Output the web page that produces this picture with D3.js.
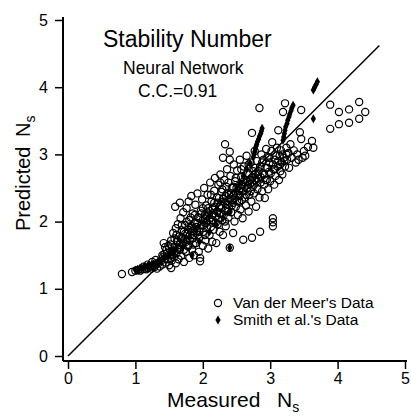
<!DOCTYPE html>
<html><head><meta charset="utf-8">
<script src="https://cdn.jsdelivr.net/npm/d3@7"></script>
<style>html,body{margin:0;padding:0;background:#fff;}svg{display:block;font-family:"Liberation Sans",Arial,Helvetica,sans-serif;}</style>
</head><body>
<svg id="chart" width="411" height="418"></svg>
<script>
// ---- data (Measured Ns, Predicted Ns) ----
const axisTicks = [0, 1, 2, 3, 4, 5];
const titleText = "Stability Number";
const subtitleText = "Neural Network";
const ccText = "C.C.=0.91";
const legendLabels = ["Van der Meer's Data", "Smith et al.'s  Data"];
const diagonal = [[0, 0], [4.62, 4.62]];

const vanDerMeer = [
  [0.80,1.22],[0.95,1.25],[1.00,1.27],[1.04,1.28],[1.07,1.27],[1.10,1.29],[1.13,1.30],[1.16,1.29],[1.19,1.31],[1.21,1.33],
  [1.24,1.30],[1.26,1.34],[1.28,1.32],[1.30,1.36],[1.32,1.30],[1.34,1.38],[1.12,1.33],[1.18,1.36],[1.25,1.40],[1.30,1.43],
  [1.36,1.33],[1.38,1.41],[1.40,1.36],[1.41,1.47],[1.42,1.68],[1.43,1.52],[1.45,1.39],[1.46,1.58],[1.48,1.44],[1.49,1.64],
  [1.50,1.35],[1.51,1.50],[1.53,1.31],[1.53,1.72],[1.54,1.42],[1.55,1.56],[1.56,1.83],[1.57,1.47],[1.58,1.62],[1.59,2.22],
  [1.60,1.38],[1.60,1.90],[1.61,1.53],[1.62,1.70],[1.63,1.96],[1.64,1.44],[1.65,1.78],[1.66,2.28],[1.66,1.58],[1.67,2.05],
  [1.68,1.49],[1.69,1.87],[1.70,1.66],[1.71,2.14],[1.72,1.40],[1.73,1.74],[1.74,1.95],[1.75,1.55],[1.76,2.20],[1.77,1.82],
  [1.78,1.63],[1.79,2.30],[1.80,1.46],[1.80,2.02],[1.81,1.72],[1.82,1.90],[1.83,2.38],[1.84,1.58],[1.85,2.12],[1.86,1.80],
  [1.87,1.50],[1.88,1.98],[1.89,2.25],[1.90,1.68],[1.91,1.86],[1.92,2.42],[1.93,2.06],[1.94,1.55],[1.95,1.76],[1.96,1.46],
  [1.96,1.41],[1.97,2.16],[1.98,1.95],[1.99,2.33],[2.00,1.64],[2.01,1.85],[2.02,2.50],[2.03,2.05],[2.04,1.72],[2.05,2.24],
  [2.06,1.92],[2.07,2.40],[2.08,1.60],[2.09,2.12],[2.10,1.80],[2.11,2.58],[2.12,2.00],[2.13,2.30],[2.14,1.70],[2.15,2.18],
  [2.16,1.88],[2.17,2.46],[2.18,2.65],[2.19,2.08],[2.20,1.68],[2.21,2.36],[2.22,1.96],[2.23,2.55],[2.24,2.22],[2.25,1.85],
  [2.26,2.70],[2.27,2.12],[2.28,2.44],[2.29,2.02],[2.30,1.80],[2.30,2.95],[2.31,2.30],[2.32,2.62],[2.33,3.15],[2.33,2.16],
  [2.34,1.93],[2.35,2.52],[2.36,2.78],[2.37,2.25],[2.38,2.06],[2.39,2.40],[2.40,3.04],[2.40,2.92],[2.40,1.61],[2.41,2.68],
  [2.42,2.14],[2.43,2.50],[2.44,2.32],[2.45,1.83],[2.46,2.85],[2.47,2.00],[2.48,2.60],[2.49,2.22],[2.50,2.42],[2.51,2.76],
  [2.52,2.10],[2.53,2.53],[2.54,2.30],[2.55,2.92],[2.56,2.18],[2.57,2.66],[2.58,2.45],[2.59,2.05],[2.60,1.73],[2.61,2.82],
  [2.62,2.36],[2.63,2.58],[2.64,2.24],[2.65,2.98],[2.66,2.50],[2.67,2.72],[2.68,2.15],[2.69,2.40],[2.70,2.62],[2.71,2.88],
  [2.72,2.30],[2.73,1.76],[2.73,3.32],[2.74,2.52],[2.75,2.75],[2.76,2.42],[2.77,3.05],[2.78,2.62],[2.79,2.22],[2.80,2.90],
  [2.81,2.48],[2.82,2.70],[2.84,3.69],[2.84,2.36],[2.85,1.85],[2.85,2.82],[2.86,2.58],[2.87,3.00],[2.88,2.45],[2.89,2.72],
  [2.90,2.92],[2.91,2.55],[2.92,2.35],[2.93,2.80],[2.94,3.08],[2.95,2.62],[2.96,2.96],[2.97,2.48],[2.98,2.74],[2.99,2.88],
  [3.00,2.60],[3.02,3.05],[3.03,3.18],[3.04,1.93],[3.04,1.99],[3.04,2.05],[3.05,2.78],[3.06,2.55],[3.07,2.92],[3.08,2.68],
  [3.10,3.10],[3.11,2.82],[3.12,3.36],[3.13,2.62],[3.14,2.98],[3.15,2.75],[3.16,3.06],[3.17,2.88],[3.18,2.70],[3.19,3.63],
  [3.20,2.95],[3.22,3.76],[3.22,2.82],[3.24,3.10],[3.25,2.92],[3.27,3.02],[3.28,2.80],[3.30,3.15],[3.32,2.95],[3.35,3.06],
  [3.38,2.88],[3.40,3.00],[3.42,2.92],[3.44,3.33],[3.46,3.23],[3.46,3.66],[3.48,2.95],[3.50,3.05],[3.52,2.98],[3.56,3.11],
  [3.62,3.20],[3.64,3.10],
  [3.89,3.74],[4.02,3.63],[4.17,3.67],[4.32,3.78],[4.41,3.63],[4.32,3.53],[4.17,3.47],[4.02,3.45],[3.89,3.38],
  [1.62,1.72],[1.68,1.76],[1.72,1.85],[1.78,1.88],[1.83,1.93],[1.87,1.90],[1.92,1.98],[1.95,2.05],[2.00,2.02],[2.03,2.10],
  [2.06,2.08],[2.10,2.16],[2.14,2.10],[2.18,2.22],[2.22,2.28],[2.26,2.24],[2.30,2.34],[2.34,2.38],[2.38,2.30],[2.42,2.42],
  [2.46,2.40],[2.50,2.50],[2.54,2.46],[2.58,2.55],[2.62,2.52],[2.66,2.60],[2.70,2.56],[2.74,2.66],[2.78,2.70],[2.82,2.64],
  [1.65,1.65],[1.75,1.70],[1.85,1.75],[1.95,1.85],[2.05,1.98],[2.15,2.02],[2.25,2.12],[2.35,2.20],[2.45,2.28],[2.55,2.38],
  [1.40,1.50],[1.44,1.45],[1.47,1.53],[1.50,1.60],[1.52,1.45],[1.55,1.50],[1.58,1.55],[1.44,1.62],[1.52,1.66],[1.58,1.75],
  [1.61,1.80],[1.64,1.60],[1.67,1.68],[1.70,1.75],[1.72,1.58],[1.74,1.82],[1.77,1.73],[1.79,1.65],[1.81,1.80],[1.84,1.86],
  [1.86,1.66],[1.88,1.80],[1.69,1.95],[1.76,2.00],[1.82,2.06],[1.88,2.10],
  [1.90,1.92],[1.93,1.80],[1.96,1.90],[1.98,2.12],[2.01,1.95],[2.03,1.80],[2.06,2.00],[2.08,2.20],[2.10,2.05],[2.12,1.92],
  [2.15,2.10],[2.17,2.28],[2.19,1.98],[2.21,2.15],[2.00,2.20],[2.12,2.40],
  [2.23,2.05],[2.24,2.35],[2.27,2.20],[2.29,2.48],[2.31,2.10],[2.33,2.28],[2.36,2.42],[2.38,2.15],[2.40,2.34],[2.43,2.24],
  [2.45,2.52],[2.47,2.35],[2.49,2.65],[2.26,2.58],[2.38,2.58],[2.33,2.00],
  [2.51,2.30],[2.53,2.40],[2.56,2.50],[2.58,2.32],[2.60,2.45],[2.62,2.62],[2.64,2.40],[2.67,2.55],[2.69,2.70],[2.71,2.45],
  [2.73,2.58],[2.76,2.55],[2.78,2.80],[2.80,2.60],[2.57,2.78],[2.68,2.85],
  [2.83,2.75],[2.86,2.66],[2.88,2.88],[2.91,2.70],[2.93,2.62],[2.96,2.80],[2.98,2.95],[3.01,2.72],[3.04,2.85],[3.07,2.78],
  [3.09,2.98],[3.12,2.90],[3.15,2.85],[3.18,3.00],[3.21,2.90],[3.24,3.00]
];

const smith = [
  [1.00,1.28],[1.03,1.29],[1.06,1.30],[1.09,1.31],[1.12,1.32],[1.15,1.33],[1.18,1.34],[1.21,1.35],[1.24,1.36],[1.27,1.37],
  [1.30,1.38],[1.33,1.40],[1.36,1.42],[1.39,1.44],[1.42,1.46],[1.45,1.48],[1.48,1.50],[1.52,1.53],[1.56,1.56],[1.60,1.60],
  [1.70,1.62],[1.84,1.50],[1.95,1.70],[2.10,1.85],[2.20,1.95],[2.30,2.05],[2.40,2.15],[2.40,1.61],
  [2.50,2.48],[2.55,2.58],[2.60,2.68],[2.65,2.78],[2.70,2.87],
  [2.75,2.96],[2.76,3.00],[2.77,3.04],[2.78,3.08],[2.79,3.12],[2.80,3.15],[2.81,3.19],[2.83,3.23],[2.84,3.27],[2.86,3.31],
  [2.87,3.35],[2.88,3.39],
  [3.19,3.21],[3.20,3.26],[3.21,3.31],[3.22,3.36],[3.23,3.41],[3.25,3.46],[3.26,3.51],[3.28,3.56],[3.29,3.60],[3.31,3.65],
  [3.32,3.69],[3.34,3.73],
  [3.64,3.96],[3.66,4.00],[3.68,4.04],[3.70,4.08],[3.64,3.53]
];

// ---- drawing ----
const svg = d3.select("#chart");
const x = d3.scaleLinear().domain([0, 5]).range([68, 405]);
const y = d3.scaleLinear().domain([0, 5]).range([356, 20]);
const axisX = 63, axisY = 361;

// axes
const gx = svg.append("g").attr("transform", `translate(0,${axisY})`)
  .call(d3.axisBottom(x).tickValues(axisTicks).tickSize(8).tickPadding(4).tickFormat(d3.format("d")));
gx.select(".domain").remove();
const gy = svg.append("g").attr("transform", `translate(${axisX},0)`)
  .call(d3.axisLeft(y).tickValues(axisTicks).tickSize(8).tickPadding(7).tickFormat(d3.format("d")));
gy.select(".domain").remove();
[gx, gy].forEach(g => {
  g.selectAll("line").attr("stroke", "#000").attr("stroke-width", 1.5);
  g.selectAll("text").attr("fill", "#000").style("font-size", "16px").style("font-family", "'Liberation Sans',Arial,sans-serif");
});
svg.append("line").attr("x1", axisX).attr("x2", axisX).attr("y1", y(5) - 3).attr("y2", axisY)
  .attr("stroke", "#000").attr("stroke-width", 2);
svg.append("line").attr("x1", axisX).attr("x2", x(5) + 2).attr("y1", axisY).attr("y2", axisY)
  .attr("stroke", "#000").attr("stroke-width", 2);

// diagonal
svg.append("path").datum(diagonal)
  .attr("d", d3.line().x(d => x(d[0])).y(d => y(d[1])))
  .attr("stroke", "#000").attr("stroke-width", 1.5).attr("fill", "none");

// Van der Meer circles
svg.append("g").selectAll("circle").data(vanDerMeer).join("circle")
  .attr("cx", d => x(d[0])).attr("cy", d => y(d[1])).attr("r", 3.6)
  .attr("fill", "none").attr("stroke", "#000").attr("stroke-width", 1.2);

// Smith diamonds
const diamond = d3.symbol().type(d3.symbolDiamond).size(24);
svg.append("g").selectAll("path").data(smith).join("path")
  .attr("transform", d => `translate(${x(d[0])},${y(d[1])})`)
  .attr("d", diamond).attr("fill", "#000");

// titles
svg.append("text").attr("x", 103).attr("y", 47).text(titleText)
  .style("font-size", "23px").attr("fill", "#000");
svg.append("text").attr("x", 123).attr("y", 74).text(subtitleText)
  .style("font-size", "17.5px").attr("fill", "#000");
svg.append("text").attr("x", 138).attr("y", 97).text(ccText)
  .style("font-size", "17.5px").attr("fill", "#000");

// axis titles
const xl = svg.append("text").attr("y", 407).style("font-size", "21px").attr("fill", "#000");
xl.append("tspan").attr("x", 167).text("Measured");
xl.append("tspan").attr("x", 277).text("N");
xl.append("tspan").attr("dy", 5).style("font-size", "14px").text("s");
const yl = svg.append("text").attr("transform", "translate(30,0) rotate(-90)").style("font-size", "20px").attr("fill", "#000");
yl.append("tspan").attr("x", -231).text("Predicted");
yl.append("tspan").attr("x", -137).text("N");
yl.append("tspan").attr("dy", 5).style("font-size", "14px").text("s");

// legend
svg.append("circle").attr("cx", 218).attr("cy", 303).attr("r", 3.6)
  .attr("fill", "none").attr("stroke", "#000").attr("stroke-width", 1.2);
svg.append("path").attr("transform", "translate(218,320)").attr("d", diamond).attr("fill", "#000");
svg.append("text").attr("x", 233).attr("y", 308).text(legendLabels[0]).style("font-size", "15.5px").attr("fill", "#000");
svg.append("text").attr("x", 233).attr("y", 325).text(legendLabels[1]).style("font-size", "15.5px").attr("fill", "#000");
</script>
</body></html>
